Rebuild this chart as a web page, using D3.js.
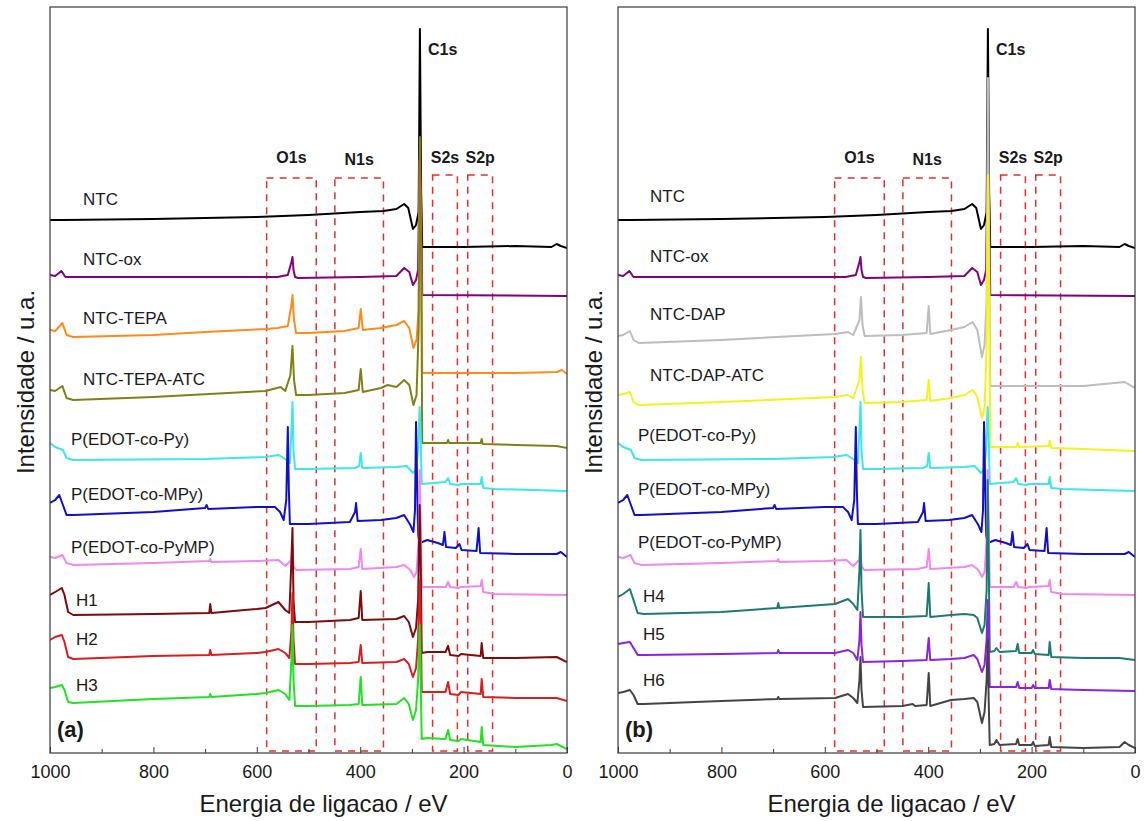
<!DOCTYPE html>
<meta charset="utf-8">
<style>
body { margin: 0; background: #fff; }
svg text { font-family: Arial, "Liberation Sans", sans-serif; fill: #1a1a1a; }
.frame { fill: none; stroke: #3a3a3a; stroke-width: 1.2; }
.axis path { display: none; }
.axis line { stroke: #3a3a3a; }
.axis text { font-size: 18px; }
.trace { fill: none; stroke-width: 2; stroke-linejoin: round; }
.region { fill: none; stroke: #e0302a; stroke-width: 1.5; stroke-dasharray: 7 6; }
.peak-label { font-size: 16px; font-weight: bold; }
.trace-label { font-size: 17px; }
.title { font-size: 24px; }
</style>
<body>
<script src="https://d3js.org/d3.v7.min.js"></script>
<script>
// binding energy ticks
var majorTicks = [1000, 800, 600, 400, 200, 0];
var minorTicks = [900, 700, 500, 300, 100];

// peak windows [name, high eV, low eV]
var regions = [["O1s", 581, 485], ["N1s", 449, 355], ["S2s", 260, 212], ["S2p", 192, 144]];

// spectra: [binding energy (eV), intensity (a.u., offset already applied)]
var ntc = [[1000,533],[975,533],[800,534],[600,536],[500,538],[400,541],[355,542],[330,544],[315,549],[307,545],[298,524],[292,528],[287,541],[284.5,724],[282,553],[280,506],[200,506],[100,507],[30,506],[20,509],[12,507],[0,505]];

var ntcOx = [[1000,478],[990,477],[978,482],[970,476],[960,476],[700,476],[560,476],[540,478],[533,491],[531,496],[529,483],[526,476],[520,475],[400,476],[330,477],[315,485],[305,481],[298,468],[292,473],[288,483],[285,603],[282,553],[280,458],[0,457]];

var ntcTepa = [[1000,423],[990,422],[976,430],[968,418],[955,416],[800,418],[700,421],[583,424],[560,425],[540,427],[533,448],[531,458],[528,433],[524,420],[500,420],[430,422],[403,425],[399,444],[395,423],[360,425],[330,428],[315,432],[305,425],[297,405],[291,413],[287,443],[285,593],[282,503],[280,380],[100,380],[20,381],[10,383],[0,379]];

var ntcTepaAtc = [[1000,363],[990,362],[976,367],[968,355],[955,353],[800,356],[583,362],[554,366],[545,362],[535,378],[531,407],[528,373],[524,358],[500,358],[430,360],[403,363],[399,384],[395,361],[360,365],[347,368],[330,366],[315,373],[305,368],[297,348],[291,358],[287,423],[284.5,616],[282,493],[280,310],[232,310],[230,313],[228,310],[167,310],[165,314],[163,309],[100,308],[20,307],[0,305]];

var pedotPy = [[1000,310],[990,306],[975,303],[968,295],[955,293],[700,294],[583,296],[558,298],[545,294],[536,290],[533,323],[531,351],[529,303],[526,284],[500,284],[410,285],[402,287],[399,300],[396,285],[330,286],[310,287],[298,280],[292,283],[288,303],[285,346],[283,313],[281,269],[235,271],[230,275],[226,269],[210,268],[205,269],[167,269],[165,276],[162,265],[140,264],[0,262]];

var pedotMPy = [[1000,250],[990,253],[982,258],[975,248],[968,238],[955,238],[800,241],[700,245],[697,248],[694,244],[600,246],[565,246],[555,241],[548,233],[543,253],[540,326],[538,263],[536,229],[500,229],[420,231],[410,241],[408,250],[405,232],[360,233],[330,235],[315,238],[303,228],[297,221],[294,243],[292,331],[290,273],[288,218],[285,210],[270,213],[250,210],[240,208],[237,221],[234,206],[215,205],[208,209],[204,203],[175,202],[171,225],[168,200],[100,199],[20,199],[12,201],[0,196]];

var pedotPyMP = [[1000,196],[990,195],[976,198],[968,190],[955,188],[800,190],[692,192],[690,194],[688,191],[600,192],[558,193],[545,187],[533,193],[531,208],[529,187],[524,183],[420,184],[403,186],[399,204],[396,184],[330,186],[315,188],[303,183],[296,176],[291,181],[287,213],[285,283],[283,233],[281,166],[235,166],[230,171],[226,166],[210,165],[205,166],[167,167],[165,173],[162,161],[140,159],[0,158]];

var h1 = [[1000,158],[990,161],[977,165],[972,158],[965,141],[955,138],[800,139],[692,140],[690,149],[688,140],[600,144],[583,145],[558,151],[545,143],[537,140],[533,193],[531,225],[529,153],[526,131],[500,131],[420,133],[403,135],[399,162],[396,133],[330,134],[315,137],[306,131],[298,116],[292,125],[288,153],[285,248],[283,193],[281,100],[270,101],[235,101],[230,107],[226,98],[210,97],[205,99],[167,97],[165,110],[162,95],[100,95],[20,96],[0,91]];

var h2 = [[1000,113],[990,116],[977,118],[972,111],[965,96],[955,94],[800,97],[692,98],[690,103],[688,98],[600,100],[583,101],[558,104],[545,100],[537,95],[533,123],[531,160],[529,113],[526,89],[500,89],[420,90],[403,91],[399,108],[396,90],[330,91],[315,94],[306,89],[298,76],[292,85],[288,113],[285,173],[283,133],[281,61],[235,61],[230,71],[226,59],[210,58],[205,61],[167,59],[165,74],[162,56],[100,55],[20,55],[0,52]];

var h3 = [[1000,65],[990,66],[977,68],[972,63],[965,51],[955,50],[800,54],[692,56],[690,59],[688,56],[600,59],[583,60],[558,63],[545,59],[537,53],[533,93],[531,128],[529,73],[526,47],[500,47],[420,48],[403,49],[399,76],[396,48],[330,49],[315,55],[306,49],[298,33],[292,43],[288,73],[285,128],[283,73],[281,14],[270,15],[235,14],[230,23],[226,13],[210,12],[205,14],[167,11],[165,26],[162,8],[100,6],[30,8],[20,9],[0,4]];

var ntcDap = [[1000,417],[990,418],[977,422],[970,413],[960,410],[800,413],[580,419],[555,421],[545,418],[533,433],[530,456],[527,428],[523,417],[450,418],[403,420],[399,447],[396,419],[356,423],[330,426],[314,431],[305,423],[296,396],[291,408],[287,453],[284.5,675],[282,503],[280,367],[100,367],[20,371],[10,368],[0,365]];

var ntcDapAtc = [[1000,358],[990,359],[977,361],[970,351],[960,348],[800,351],[580,356],[555,358],[545,355],[533,373],[530,396],[527,363],[523,350],[450,351],[403,353],[399,373],[396,352],[356,355],[330,358],[314,363],[305,356],[296,335],[291,345],[287,403],[284.5,578],[282,453],[280,306],[230,306],[227,310],[224,306],[167,307],[165,312],[162,305],[100,304],[0,302]];

var h4 = [[1000,156],[990,159],[977,164],[970,153],[962,140],[950,139],[800,141],[692,145],[690,150],[688,145],[580,149],[555,154],[545,149],[537,143],[533,183],[531,223],[529,163],[526,136],[450,136],[403,137],[399,170],[396,136],[356,138],[330,139],[312,138],[305,135],[296,120],[291,128],[287,163],[285,273],[283,193],[281,101],[272,102],[268,105],[262,101],[230,102],[227,109],[224,100],[200,100],[197,103],[194,99],[167,98],[165,111],[162,96],[100,95],[30,95],[0,93]];

var h5 = [[1000,109],[990,110],[977,111],[970,105],[962,98],[950,98],[800,99],[692,100],[690,103],[688,100],[580,100],[555,103],[545,100],[537,93],[533,113],[531,141],[529,108],[526,91],[450,92],[403,93],[399,115],[396,93],[356,94],[330,95],[312,98],[305,94],[296,81],[291,88],[287,113],[285,153],[283,113],[281,66],[230,66],[227,71],[224,65],[200,65],[197,68],[194,65],[167,65],[165,73],[162,64],[100,63],[0,62]];

var h6 = [[1000,60],[990,61],[977,63],[970,58],[962,49],[950,49],[800,52],[692,54],[690,56],[688,54],[580,55],[555,59],[545,55],[537,50],[533,73],[531,96],[529,63],[526,46],[450,47],[430,49],[425,47],[403,48],[399,80],[396,47],[356,53],[330,54],[312,55],[305,51],[296,30],[291,41],[287,73],[285,113],[283,53],[281,8],[272,9],[268,13],[262,8],[230,9],[227,14],[224,8],[200,8],[197,11],[194,7],[167,8],[165,16],[162,6],[100,5],[30,6],[20,11],[12,8],[0,5]];

// series per panel, top to bottom (drawing order)
var namesA = ["NTC", "NTC-ox", "NTC-TEPA", "NTC-TEPA-ATC", "P(EDOT-co-Py)", "P(EDOT-co-MPy)", "P(EDOT-co-PyMP)", "H1", "H2", "H3"];
var dataA = [ntc, ntcOx, ntcTepa, ntcTepaAtc, pedotPy, pedotMPy, pedotPyMP, h1, h2, h3];
var colorsA = ["#000000", "#800080", "#ff8a1c", "#808018", "#3ee6e6", "#1010c8", "#ee88ee", "#7a0c0c", "#d81e1e", "#22e022"];

var namesB = ["NTC", "NTC-ox", "NTC-DAP", "NTC-DAP-ATC", "P(EDOT-co-Py)", "P(EDOT-co-MPy)", "P(EDOT-co-PyMP)", "H4", "H5", "H6"];
var dataB = [ntc, ntcOx, ntcDap, ntcDapAtc, pedotPy, pedotMPy, pedotPyMP, h4, h5, h6];
var colorsB = ["#000000", "#800080", "#bdbdbd", "#f2f21e", "#3ee6e6", "#1010c8", "#ee88ee", "#1d7a70", "#8a22e0", "#444444"];

// label anchors (intensity just above each trace start)
var labelLevelsA = [548, 488, 429, 368, 308, 253, 200, 147, 108, 62];
var labelLevelsB = [551, 491, 433, 372, 312, 258, 205, 151, 113, 67];

var W = 1144, H = 821;
var svg = d3.select("body").append("svg")
  .attr("width", W)
  .attr("height", H);

var plotTop = 7, plotBottom = 753;

function drawPanel(left, right, names, data, colors, levels, tag, labelX, titleShift) {
  var x = d3.scaleLinear().domain([1000, 0]).range([left, right]);
  var y = d3.scaleLinear().domain([0, 746]).range([plotBottom, plotTop]);
  var g = svg.append("g");

  var clipId = "clip-" + tag;
  g.append("clipPath").attr("id", clipId)
    .append("rect")
    .attr("x", left).attr("y", plotTop)
    .attr("width", right - left).attr("height", plotBottom - plotTop);

  // dashed peak windows
  g.selectAll(".region")
    .data(regions)
    .enter().append("rect")
    .attr("class", "region")
    .attr("x", function(d) { return x(d[1]); })
    .attr("width", function(d) { return x(d[2]) - x(d[1]); })
    .attr("y", function(d) { return d[0] == "S2s" || d[0] == "S2p" ? y(578) : y(575); })
    .attr("height", function(d) { return (d[0] == "S2s" || d[0] == "S2p" ? y(2) - y(578) : y(2) - y(575)); });

  var line = d3.line()
    .x(function(d) { return x(d[0]); })
    .y(function(d) { return y(d[1]); });

  g.append("g").attr("clip-path", "url(#" + clipId + ")")
    .selectAll(".trace")
    .data(data)
    .enter().append("path")
    .attr("class", "trace")
    .attr("stroke", function(d, i) { return colors[i]; })
    .attr("d", line);

  g.selectAll(".trace-label")
    .data(names)
    .enter().append("text")
    .attr("class", "trace-label")
    .attr("x", function(d) { return d.charAt(0) == "P" ? labelX - 12 : (d.charAt(0) == "H" ? labelX - 7 : labelX); })
    .attr("y", function(d, i) { return y(levels[i]); })
    .text(function(d) { return d; });

  // peak labels
  g.selectAll(".peak-label")
    .data(regions)
    .enter().append("text")
    .attr("class", "peak-label")
    .attr("text-anchor", "middle")
    .attr("x", function(d) { return x((d[1] + d[2]) / 2); })
    .attr("y", function(d) { return d[0] == "N1s" ? y(588) : y(590); })
    .text(function(d) { return d[0]; });

  g.append("text")
    .attr("class", "peak-label")
    .attr("x", x(269))
    .attr("y", y(698))
    .text("C1s");

  g.append("text")
    .attr("x", left + 7)
    .attr("y", y(16))
    .style("font-size", "22px")
    .style("font-weight", "bold")
    .text("(" + tag + ")");

  // frame and ticks
  g.append("rect")
    .attr("class", "frame")
    .attr("x", left).attr("y", plotTop)
    .attr("width", right - left).attr("height", plotBottom - plotTop);

  g.append("g")
    .attr("class", "axis")
    .attr("transform", "translate(0," + plotBottom + ")")
    .call(d3.axisBottom(x).tickValues(majorTicks).tickSizeInner(-6).tickSizeOuter(0).tickPadding(12).tickFormat(d3.format("d")));

  g.append("g")
    .attr("class", "axis")
    .attr("transform", "translate(0," + plotBottom + ")")
    .call(d3.axisBottom(x).tickValues(minorTicks).tickSizeInner(-4).tickSizeOuter(0).tickFormat(""));

  g.append("text")
    .attr("class", "title")
    .attr("text-anchor", "middle")
    .attr("x", (left + right) / 2 + titleShift)
    .attr("y", 812)
    .text("Energia de ligacao / eV");

  g.append("text")
    .attr("class", "title")
    .attr("text-anchor", "middle")
    .attr("transform", "translate(" + (left - 16) + ",382) rotate(-90)")
    .text("Intensidade / u.a.");
}

drawPanel(50, 567, namesA, dataA, colorsA, labelLevelsA, "a", 83, 15);
drawPanel(618, 1135, namesB, dataB, colorsB, labelLevelsB, "b", 650, 15);
</script>
